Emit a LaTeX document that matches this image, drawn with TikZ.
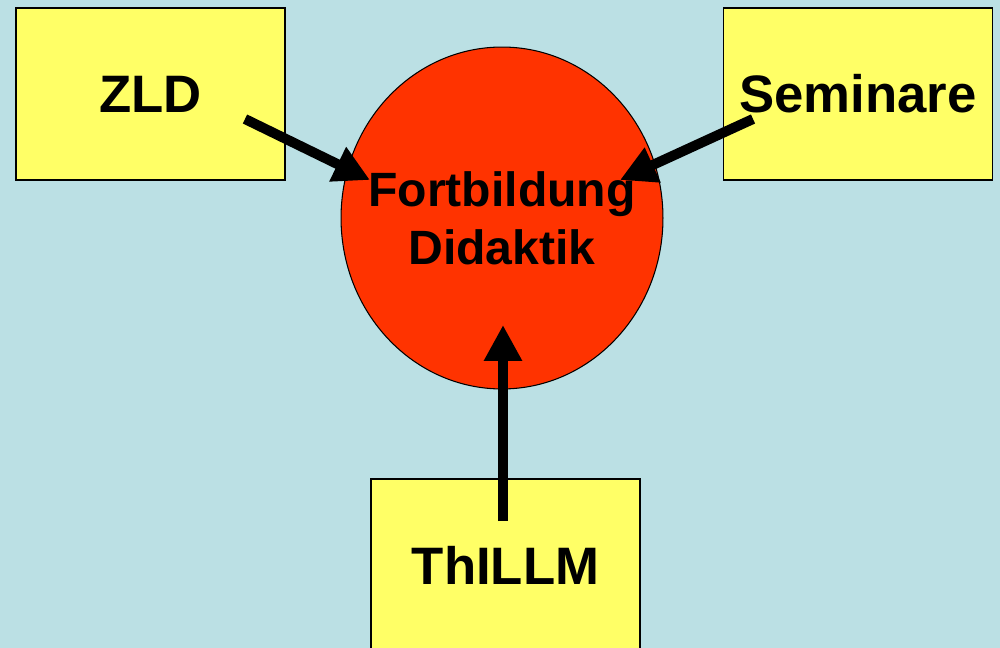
\documentclass[tikz,border=0pt]{standalone}
\usepackage{fontspec}
\setmainfont{Liberation Sans}
\usetikzlibrary{positioning,arrows.meta,shapes.geometric}
\definecolor{bgblue}{RGB}{187,224,228}
\definecolor{boxyellow}{RGB}{255,255,102}
\definecolor{circred}{RGB}{255,51,0}
\tikzset{
  sbox/.style={draw=black, line width=0.8pt, fill=boxyellow, minimum width=5.38cm, minimum height=3.44cm, font=\fontsize{30}{34}\selectfont\bfseries},
  bigarr/.style={-{Triangle[length=0.72cm,width=0.72cm]}, line width=0.2cm}
}

\begin{document}
\begin{tikzpicture}[x=0.02cm, y=-0.02cm]
		\fill[bgblue] (0,0) rectangle (1000,648);
		\useasboundingbox (0,0) rectangle (1000,648);
		\node[ellipse, draw=black, line width=0.6pt, fill=circred, inner sep=0pt, minimum width=6.44cm, minimum height=6.84cm] (fort) at (502,218) {};
		\node[align=center, font=\fontsize{27.4}{33}\selectfont\bfseries] (forttext) at (fort.center) {Fortbildung\\Didaktik};
		\node[sbox] (zld) at (150.5,94) {ZLD};
		\node[sbox] (sem) at (858,94) {Seminare};
		\node[sbox] (thillm) at (505.5,565) {ThILLM};
		% arrow ends
		\coordinate (zldout) at (245,119);
		\coordinate (zldin) at (370,180);
		\coordinate (semout) at (753,119);
		\coordinate (semin) at (620,180);
		\coordinate (thout) at (503,521);
		\coordinate (thin) at (503,325);
		\draw[bigarr] (zldout) -- (zldin);
		\draw[bigarr] (semout) -- (semin);
		\draw[bigarr] (thout) -- (thin);
	\end{tikzpicture}
\end{document}
